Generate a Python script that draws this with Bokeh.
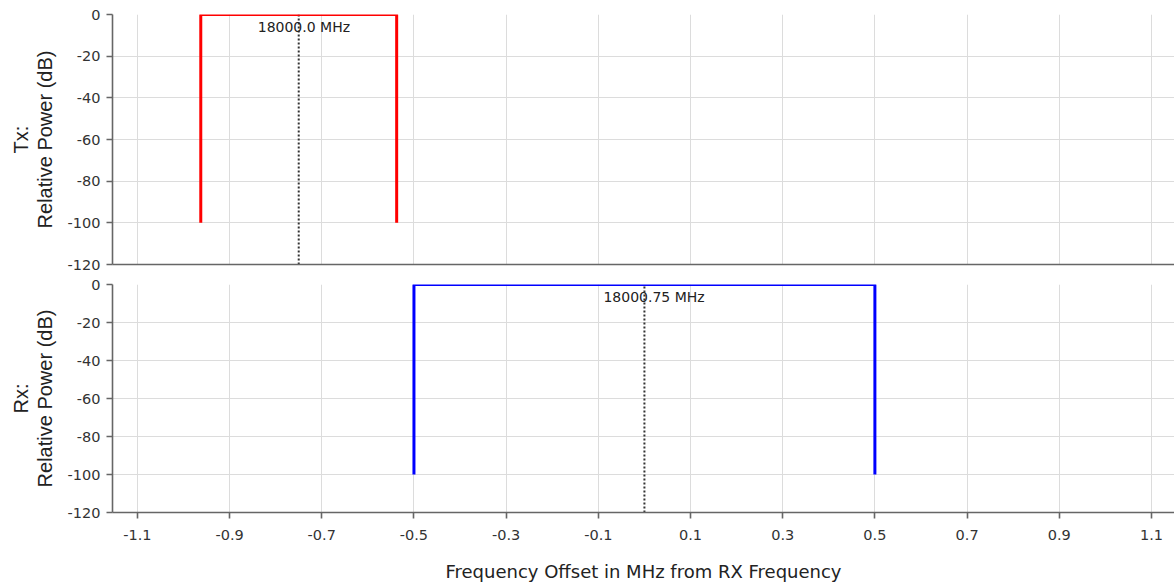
from bokeh.plotting import figure
from bokeh.models import Range1d, FixedTicker, ColumnDataSource
from bokeh.layouts import column
from bokeh.core.properties import value
from bokeh.embed import file_html
from bokeh.resources import INLINE

# ---- data ----
x_ticks = [-1.1, -0.9, -0.7, -0.5, -0.3, -0.1, 0.1, 0.3, 0.5, 0.7, 0.9, 1.1]
x_tick_labels = ["-1.1", "-0.9", "-0.7", "-0.5", "-0.3", "-0.1", "0.1", "0.3", "0.5", "0.7", "0.9", "1.1"]
y_ticks = [0, -20, -40, -60, -80, -100, -120]
y_tick_labels = ["0", "-20", "-40", "-60", "-80", "-100", "-120"]

tx_x = [-0.9625, -0.9625, -0.5375, -0.5375]
tx_y = [-100, 0, 0, -100]
tx_center = -0.75
tx_label = "18000.0 MHz"

rx_x = [-0.5, -0.5, 0.5, 0.5]
rx_y = [-100, 0, 0, -100]
rx_center = 0.0
rx_label = "18000.75 MHz"

x_min, x_max = -1.154, 1.15
y_min, y_max = -120, 0

AXIS = "#666666"
GRID = "#dcdcdc"
TICKTXT = "#333333"
FONT = "DejaVu Sans"

x_range = Range1d(x_min, x_max)


def make_fig(height, top, bottom, ylabel, show_x):
    p = figure(width=1174, height=height, x_range=x_range, y_range=Range1d(y_min, y_max),
               output_backend="svg", toolbar_location=None,
               min_border_left=112, min_border_right=0, min_border_top=top, min_border_bottom=bottom)
    p.outline_line_color = None
    p.background_fill_color = "white"
    p.border_fill_color = "white"
    p.xgrid.grid_line_color = GRID
    p.ygrid.grid_line_color = GRID
    p.xgrid.ticker = FixedTicker(ticks=x_ticks)
    p.yaxis.ticker = FixedTicker(ticks=y_ticks)
    p.yaxis.major_label_overrides = {t: l for t, l in zip(y_ticks, y_tick_labels)}
    for ax in (p.xaxis[0], p.yaxis[0]):
        ax.axis_line_color = AXIS
        ax.axis_line_width = 1.6
        ax.major_tick_line_color = AXIS
        ax.major_tick_line_width = 1.6
        ax.minor_tick_line_color = None
        ax.major_tick_in = 0
        ax.major_tick_out = 6
        ax.major_label_text_font = FONT
        ax.major_label_text_font_size = "14.5px"
        ax.major_label_text_color = TICKTXT
    p.yaxis.major_label_standoff = 6
    p.yaxis.axis_label = ylabel
    p.yaxis.axis_label_text_font = "Liberation Sans"
    p.yaxis.axis_label_text_font_size = "20px"
    p.yaxis.axis_label_text_font_style = "normal"
    p.yaxis.axis_label_text_color = "#222222"
    p.yaxis.axis_label_text_line_height = 1.05
    p.yaxis.axis_label_standoff = 9
    if show_x:
        p.xaxis.ticker = FixedTicker(ticks=x_ticks)
        p.xaxis.major_label_overrides = {t: l for t, l in zip(x_ticks, x_tick_labels)}
        p.xaxis.major_label_standoff = 11
        p.xaxis.axis_label = "Frequency Offset in MHz from RX Frequency"
        p.xaxis.axis_label_text_font = FONT
        p.xaxis.axis_label_text_font_size = "18px"
        p.xaxis.axis_label_text_font_style = "normal"
        p.xaxis.axis_label_text_color = "#222222"
        p.xaxis.axis_label_standoff = 18
    else:
        p.xaxis.ticker = FixedTicker(ticks=[])
        p.xaxis.major_tick_out = 0
        p.xaxis.major_label_standoff = 0
    return p


top = make_fig(274, 14, 10, "Tx:\nRelative Power (dB)", False)
bot = make_fig(310, 10, 71, "Rx:\nRelative Power (dB)", True)

for p, xs, ys, col, c, lab in ((top, tx_x, tx_y, "#ff0000", tx_center, tx_label),
                               (bot, rx_x, rx_y, "#0000ff", rx_center, rx_label)):
    p.segment(x0=[c], y0=[y_min], x1=[c], y1=[y_max], line_color="#333333",
              line_width=2, line_dash="2 2")
    p.line(xs, ys, line_color=col, line_width=3)
    src = ColumnDataSource(dict(x=[c], y=[y_max], t=[lab]))
    p.text(x="x", y="y", text="t", source=src, text_align="left", text_baseline="middle",
           x_offset=-41, y_offset=12, text_font=value(FONT), text_font_size="14px",
           text_color="#222222")

layout = column(top, bot, spacing=0)
open("out.html", "w").write(file_html(layout, INLINE))
